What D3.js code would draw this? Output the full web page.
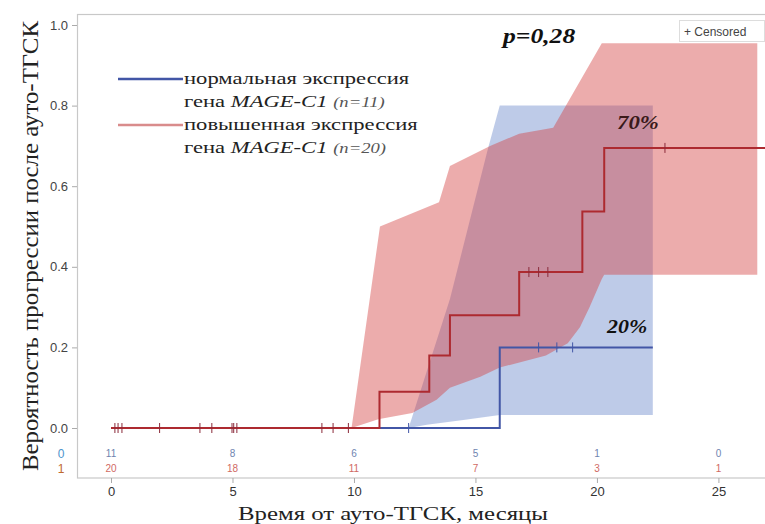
<!DOCTYPE html>
<html>
<head>
<meta charset="utf-8">
<script src="https://cdn.jsdelivr.net/npm/d3@7"></script>
<style>
  body { margin: 0; background: #fff; }
  svg { display: block; }
</style>
</head>
<body>
<div id="chart"></div>
<script>
// --- data ---
// step curves: [time, probability]
var blueSteps = [[0, 0], [16.0, 0.2], [22.3, 0.2]];
var redSteps = [[0, 0], [11.05, 0.09], [13.1, 0.18], [13.95, 0.28], [16.8, 0.387], [19.4, 0.537], [20.3, 0.695], [27, 0.695]];

// confidence bands
var blueUpper = [[12.25, 0], [13.95, 0.32], [15.5, 0.69], [16.0, 0.8], [22.3, 0.8]];
var blueLower = [[12.25, 0], [13.0, 0.008], [14.5, 0.02], [16.0, 0.032], [22.3, 0.032]];
var redUpper = [[9.9, 0], [11.07, 0.5], [13.1, 0.55], [13.5, 0.56], [13.95, 0.65], [15.6, 0.7], [16.8, 0.73], [18.2, 0.745], [20.2, 0.955], [26.6, 0.955]];
var redLower = [[9.9, 0], [11.0, 0.022], [12.4, 0.037], [13.4, 0.07], [13.95, 0.1], [15.2, 0.127], [16.0, 0.15], [17.9, 0.18], [18.8, 0.21], [19.3, 0.25], [19.7, 0.3], [20.2, 0.37], [20.3, 0.38], [26.6, 0.38]];

// censored marks: [time, probability]
var blueCensored = [[12.25, 0], [17.6, 0.2], [18.35, 0.2], [19.0, 0.2]];
var redCensored = [[0.16, 0], [0.29, 0], [0.45, 0], [2.0, 0], [3.66, 0], [4.15, 0], [4.98, 0], [5.05, 0], [5.18, 0],
  [8.68, 0], [9.14, 0], [9.77, 0], [17.2, 0.387], [17.6, 0.387], [17.98, 0.387], [22.8, 0.695]];

// number at risk
var riskTimes = [0, 5, 10, 15, 20, 25];
var riskBlue = [11, 8, 6, 5, 1, 0];
var riskRed = [20, 18, 11, 7, 3, 1];

var xTicks = [0, 5, 10, 15, 20, 25];
var yTicks = [0, 0.2, 0.4, 0.6, 0.8, 1.0];

var svgWidth = 765;
var svgHeight = 524;

var svg = d3.select("#chart")
  .append("svg")
  .attr("width", svgWidth)
  .attr("height", svgHeight);

var x = d3.scaleLinear().domain([-1.4, 27]).range([77, 767]);
var y = d3.scaleLinear().domain([0, 1]).range([428, 25]);

var serif = "Liberation Serif, Times New Roman, serif";
var sans = "Liberation Sans, Arial, sans-serif";

// plot frame
svg.append("rect")
  .attr("x", 77.5).attr("y", 14.5)
  .attr("width", 700).attr("height", 463.5)
  .attr("fill", "none")
  .attr("stroke", "#c8c8c8")
  .attr("stroke-width", 1.2);

// bands
function band(upper, lower) {
  return upper.concat(lower.slice().reverse());
}
var areaLine = d3.line().x(d => x(d[0])).y(d => y(d[1]));

svg.append("path")
  .attr("d", areaLine(band(blueUpper, blueLower)) + "Z")
  .attr("fill", "rgb(100,130,200)")
  .attr("fill-opacity", 0.42);

svg.append("path")
  .attr("d", areaLine(band(redUpper, redLower)) + "Z")
  .attr("fill", "rgb(212,62,62)")
  .attr("fill-opacity", 0.43);

// step lines
var stepLine = d3.line().x(d => x(d[0])).y(d => y(d[1])).curve(d3.curveStepAfter);

svg.append("path")
  .attr("d", stepLine(blueSteps))
  .attr("fill", "none")
  .attr("stroke", "#4256a6")
  .attr("stroke-width", 2);

svg.append("path")
  .attr("d", stepLine(redSteps))
  .attr("fill", "none")
  .attr("stroke", "#ad2a30")
  .attr("stroke-width", 2);

// censor ticks
function censor(data, color) {
  svg.append("g").selectAll("line")
    .data(data)
    .enter()
    .append("line")
    .attr("x1", d => x(d[0])).attr("x2", d => x(d[0]))
    .attr("y1", d => y(d[1]) - 5).attr("y2", d => y(d[1]) + 5)
    .attr("stroke", color)
    .attr("stroke-width", 1);
}
censor(blueCensored, "#4256a6");
censor(redCensored, "#8a2a3a");

// y axis
var yAxis = svg.append("g")
  .attr("transform", "translate(77,0)")
  .call(d3.axisLeft(y).tickValues(yTicks).tickFormat(d3.format(".1f")).tickSize(5));
yAxis.select(".domain").remove();
yAxis.selectAll("line").attr("stroke", "#aaa");
yAxis.selectAll("text")
  .attr("font-family", sans)
  .attr("font-size", 13)
  .attr("fill", "#444")
  .attr("x", -9);

// x axis
var xAxis = svg.append("g")
  .attr("transform", "translate(0,478)")
  .call(d3.axisBottom(x).tickValues(xTicks).tickSize(5));
xAxis.select(".domain").remove();
xAxis.selectAll("line").attr("stroke", "#aaa");
xAxis.selectAll("text")
  .attr("font-family", sans)
  .attr("font-size", 13)
  .attr("fill", "#333")
  .attr("y", 9);

// number at risk
svg.append("g").selectAll("text")
  .data(riskBlue)
  .enter()
  .append("text")
  .attr("x", (d, i) => x(riskTimes[i]))
  .attr("y", 457)
  .attr("text-anchor", "middle")
  .attr("font-family", sans)
  .attr("font-size", 10)
  .attr("fill", "#6f84b0")
  .text(d => d);

svg.append("g").selectAll("text")
  .data(riskRed)
  .enter()
  .append("text")
  .attr("x", (d, i) => x(riskTimes[i]))
  .attr("y", 472)
  .attr("text-anchor", "middle")
  .attr("font-family", sans)
  .attr("font-size", 10)
  .attr("fill", "#d06a64")
  .text(d => d);

svg.append("text")
  .attr("x", 61).attr("y", 458)
  .attr("text-anchor", "middle")
  .attr("font-family", sans)
  .attr("font-size", 12)
  .attr("fill", "#4d94cc")
  .text("0");
svg.append("text")
  .attr("x", 61).attr("y", 473)
  .attr("text-anchor", "middle")
  .attr("font-family", sans)
  .attr("font-size", 12)
  .attr("fill", "#c0692e")
  .text("1");

// axis titles
svg.append("text")
  .attr("transform", "translate(38,246) rotate(-90)")
  .attr("text-anchor", "middle")
  .attr("font-family", serif)
  .attr("font-size", 23)
  .attr("fill", "#222")
  .attr("textLength", 450)
  .attr("lengthAdjust", "spacingAndGlyphs")
  .text("Вероятность прогрессии после ауто-ТГСК");

svg.append("text")
  .attr("x", 393).attr("y", 520)
  .attr("text-anchor", "middle")
  .attr("font-family", serif)
  .attr("font-size", 19)
  .attr("fill", "#222")
  .attr("textLength", 310)
  .attr("lengthAdjust", "spacingAndGlyphs")
  .text("Время от ауто-ТГСК, месяцы");

// legend
var legend = svg.append("g")
  .attr("font-family", serif)
  .attr("font-size", 17)
  .attr("fill", "#222");

legend.append("line")
  .attr("x1", 118).attr("x2", 183).attr("y1", 79).attr("y2", 79)
  .attr("stroke", "#4256a6").attr("stroke-width", 2.5);
legend.append("line")
  .attr("x1", 118).attr("x2", 183).attr("y1", 125).attr("y2", 125)
  .attr("stroke", "#d98c8c").attr("stroke-width", 2.5);

var legendText = legend.append("g")
  .attr("transform", "translate(184,0) scale(1.33,1)");

var legendRows = [
  { y: 84, text: "нормальная экспрессия" },
  { y: 130, text: "повышенная экспрессия" }
];
var legendGene = [
  { y: 107, n: "(n=11)" },
  { y: 153, n: "(n=20)" }
];
legendText.selectAll("text.row")
  .data(legendRows)
  .enter()
  .append("text")
  .attr("class", "row")
  .attr("x", 0).attr("y", d => d.y)
  .text(d => d.text);

var gene = legendText.selectAll("text.gene")
  .data(legendGene)
  .enter()
  .append("text")
  .attr("class", "gene")
  .attr("x", 0).attr("y", d => d.y);
gene.append("tspan").text("гена ");
gene.append("tspan").attr("font-style", "italic").text("MAGE-C1 ");
gene.append("tspan").attr("font-style", "italic").attr("font-size", 14).attr("fill", "#555").text(d => d.n);

// annotations
function note(px, py, size, sx, label, color) {
  svg.append("text")
    .attr("transform", "translate(" + px + "," + py + ") scale(" + sx + ",1)")
    .attr("font-family", serif)
    .attr("font-size", size)
    .attr("font-weight", "bold")
    .attr("font-style", "italic")
    .attr("fill", color)
    .text(label);
}
note(503, 43, 21, 1.22, "p=0,28", "#111");
note(617, 129, 18, 1.27, "70%", "#3a1a1a");
note(607, 333, 18, 1.22, "20%", "#111");

// censored legend box
svg.append("rect")
  .attr("x", 679.5).attr("y", 20.5)
  .attr("width", 85).attr("height", 21)
  .attr("fill", "#fff")
  .attr("stroke", "#ddd");
svg.append("text")
  .attr("x", 684).attr("y", 36)
  .attr("font-family", sans)
  .attr("font-size", 12)
  .attr("fill", "#444")
  .text("+ Censored");
</script>
</body>
</html>
